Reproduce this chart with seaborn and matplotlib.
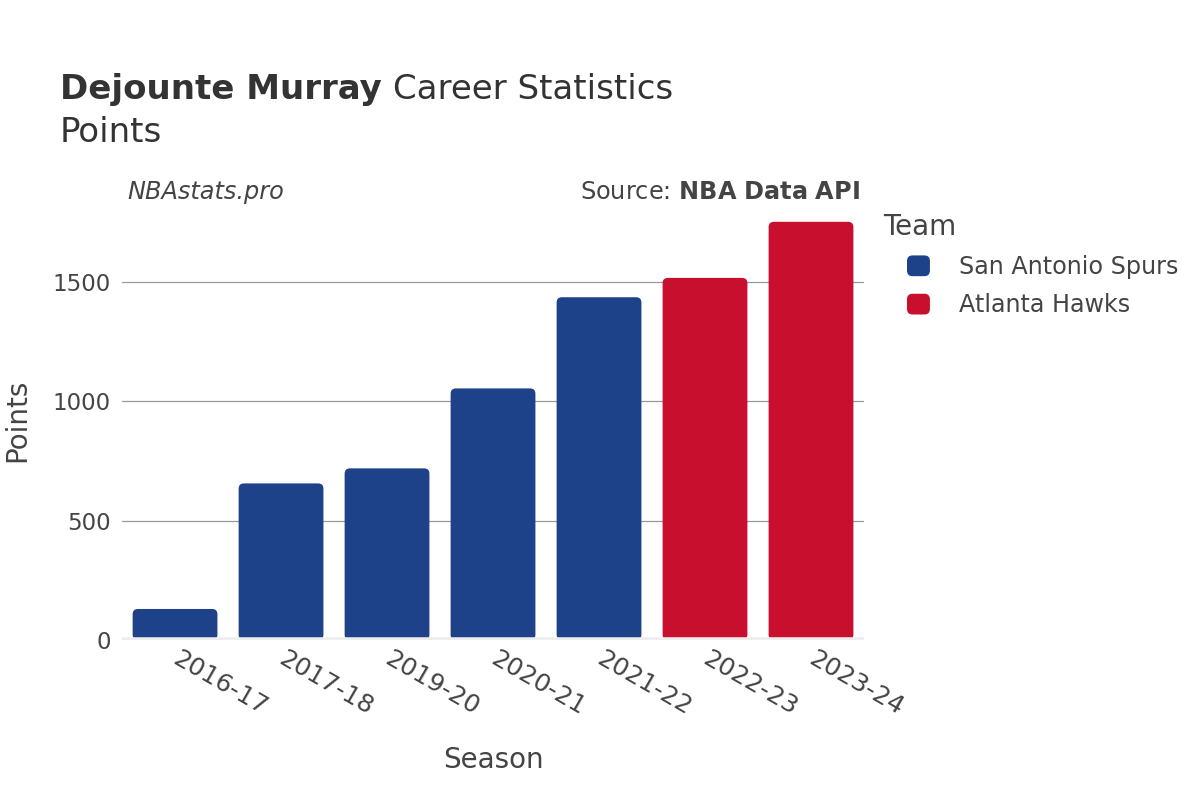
import pandas as pd
import numpy as np
import matplotlib
matplotlib.use("Agg")
import matplotlib.pyplot as plt
import seaborn as sns
from matplotlib.patches import FancyBboxPatch, Patch
from matplotlib.legend_handler import HandlerPatch

# ---------------------------------------------
# data
# ---------------------------------------------
seasons = ["2016-17", "2017-18", "2019-20", "2020-21", "2021-22", "2022-23", "2023-24"]
points = [130, 656, 719, 1054, 1436, 1517, 1752]
teams = ["San Antonio Spurs"] * 5 + ["Atlanta Hawks"] * 2

team_order = ["San Antonio Spurs", "Atlanta Hawks"]
team_colors = {"San Antonio Spurs": "#1d428a", "Atlanta Hawks": "#c8102e"}

df = pd.DataFrame({"Season": seasons, "Points": points, "Team": teams})

txt = "#444444"

# ---------------------------------------------
# plot
# ---------------------------------------------
sns.set_theme(style="white")
plt.rcParams["font.family"] = ["DejaVu Sans"]

fig = plt.figure(figsize=(12, 8), dpi=100)
ax = fig.add_axes([0.1017, 0.2, 0.6183, 0.549])

sns.barplot(data=df, x="Season", y="Points", hue="Team", hue_order=team_order,
            palette=team_colors, dodge=False, width=0.8, saturation=1,
            legend=False, ax=ax)

ymax = 1840
ax.set_ylim(0, ymax)
ax.set_xlim(-0.5, len(seasons) - 0.5)

# rounded bar tops
xpx = 742 / len(seasons)
ypx = 439 / ymax
aspect = xpx / ypx
for p in list(ax.patches):
    if p.get_height() <= 0:
        continue
    x0, y0 = p.get_x(), p.get_y()
    w, h = p.get_width(), p.get_height()
    fb = FancyBboxPatch((x0, y0), w, h,
                        boxstyle="round,pad=0,rounding_size=0.05",
                        mutation_aspect=aspect,
                        facecolor=p.get_facecolor(), edgecolor="none", zorder=2)
    p.remove()
    ax.add_patch(fb)

for s in ax.spines.values():
    s.set_visible(False)

ax.set_yticks([0, 500, 1000, 1500])
ax.yaxis.grid(True, color="#999999", linewidth=0.9)
ax.set_axisbelow(True)
ax.axhline(0, color="#eeeeee", linewidth=4, zorder=3)
ax.tick_params(axis="both", length=0, colors=txt)
ax.tick_params(axis="y", pad=8, labelsize=16.5)

ax.set_xticks(range(len(seasons)))
ax.set_xticklabels(seasons, rotation=-30, ha="left", va="center",
                   rotation_mode="anchor", fontsize=18)
ax.tick_params(axis="x", pad=12)

ax.set_xlabel("Season", fontsize=20, color=txt, va="center")
ax.set_ylabel("Points", fontsize=20, color=txt, va="center")
ax.xaxis.set_label_coords(0.5, -0.273)
ax.yaxis.set_label_coords(-0.1415, 0.5)

# titles
t1 = fig.text(0.05, 0.888, "Dejounte Murray", fontsize=24.5, fontweight="bold",
              color="#333333", va="center")
fig.canvas.draw()
bb = t1.get_window_extent(fig.canvas.get_renderer())
fig.text(bb.x1 / 1200 + 0.009, 0.888, "Career Statistics", fontsize=24.5,
         color="#333333", va="center")
fig.text(0.05, 0.835, "Points", fontsize=24.5, color="#333333", va="center")
fig.text(0.106, 0.76, "NBAstats.pro", fontsize=17.3, style="italic", color=txt, va="center")
fig.text(0.717, 0.76, "Source: $\\bf{NBA\\ Data\\ API}$", fontsize=17.3, color=txt,
         va="center", ha="right")


# legend
def rounded_handle(xdescent, ydescent, width, height, **kwargs):
    return FancyBboxPatch((-xdescent, -ydescent), width, height,
                          boxstyle="round,pad=0,rounding_size=4")


fig.text(883 / 1200, 1 - 227 / 800, "Team", fontsize=20, color=txt, va="center")
handles = [Patch(facecolor=team_colors[t], edgecolor="none", label=t) for t in team_order]
leg = fig.legend(handles=handles, loc="upper left",
                 bbox_to_anchor=(907 / 1200, 1 - 255 / 800), frameon=False,
                 fontsize=17.2, borderpad=0, borderaxespad=0,
                 handlelength=0.96, handleheight=0.96,
                 handletextpad=1.2, labelspacing=0.6,
                 handler_map={Patch: HandlerPatch(patch_func=rounded_handle)})
for t in leg.get_texts():
    t.set_color(txt)

fig.savefig("out.png", dpi=100, facecolor="white")
